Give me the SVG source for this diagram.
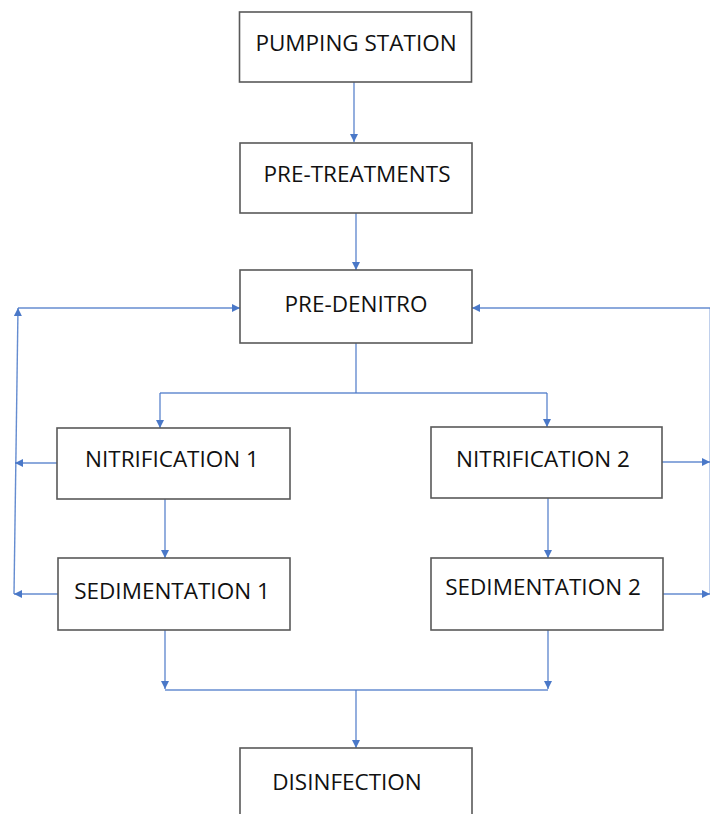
<svg xmlns="http://www.w3.org/2000/svg" width="710" height="814" viewBox="0 0 710 814">
<defs>
<style>
.box{fill:#fff;stroke:#595959;stroke-width:1.6}
.lbl{font-family:"Open Sans","Liberation Sans",sans-serif;font-size:22.5px;fill:#111;text-anchor:middle}
.c{fill:none;stroke:#4a78c8;stroke-width:1.4;stroke-opacity:0.85}
</style>
<marker id="ah" viewBox="0 0 10 10" refX="10" refY="5" markerWidth="8" markerHeight="8" markerUnits="userSpaceOnUse" orient="auto">
<path d="M0,0 L10,5 L0,10 z" fill="#4a78c8"/>
</marker>
</defs>
<rect width="710" height="814" fill="#fff"/>
<g id="connectors">
<path class="c" d="M354,82 V142" marker-end="url(#ah)"/>
<path class="c" d="M356,213 V270" marker-end="url(#ah)"/>
<path class="c" d="M356,343 V393"/>
<path class="c" d="M160,393 H547"/>
<path class="c" d="M160,393 V428" marker-end="url(#ah)"/>
<path class="c" d="M547,393 V427" marker-end="url(#ah)"/>
<path class="c" d="M165,499 V558" marker-end="url(#ah)"/>
<path class="c" d="M548,498 V558" marker-end="url(#ah)"/>
<path class="c" d="M57,463 H15" marker-end="url(#ah)"/>
<path class="c" d="M58,594 H14" marker-end="url(#ah)"/>
<path class="c" d="M14,594 L18,308" marker-end="url(#ah)"/>
<path class="c" d="M18,308 H240" marker-end="url(#ah)"/>
<path class="c" d="M710,308 H472" marker-end="url(#ah)"/>
<path class="c" d="M662,462 H710" marker-end="url(#ah)"/>
<path class="c" d="M663,594 H710" marker-end="url(#ah)"/>
<path class="c" d="M710.3,308 V594" stroke-opacity="0.15"/>
<path class="c" d="M165,630 V689" marker-end="url(#ah)"/>
<path class="c" d="M548,630 V689" marker-end="url(#ah)"/>
<path class="c" d="M165,690 H548"/>
<path class="c" d="M356,690 V748" marker-end="url(#ah)"/>
</g>
<g id="pumping"><rect class="box" x="239.5" y="12" width="232" height="70"/><text class="lbl" x="356" y="51">PUMPING STATION</text></g>
<g id="pretreat"><rect class="box" x="240" y="143" width="232" height="70"/><text class="lbl" x="357" y="182">PRE-TREATMENTS</text></g>
<g id="predenitro"><rect class="box" x="240" y="270" width="232" height="73"/><text class="lbl" x="356" y="312">PRE-DENITRO</text></g>
<g id="nit1"><rect class="box" x="57" y="428" width="233" height="71"/><text class="lbl" x="172" y="467">NITRIFICATION 1</text></g>
<g id="nit2"><rect class="box" x="431" y="427" width="231" height="71"/><text class="lbl" x="543" y="467">NITRIFICATION 2</text></g>
<g id="sed1"><rect class="box" x="58" y="558" width="232" height="72"/><text class="lbl" x="172" y="599">SEDIMENTATION 1</text></g>
<g id="sed2"><rect class="box" x="431" y="558" width="232" height="72"/><text class="lbl" x="543" y="595">SEDIMENTATION 2</text></g>
<g id="disinfection"><rect class="box" x="240" y="748" width="232" height="80"/><text class="lbl" x="347" y="790">DISINFECTION</text></g>
</svg>
